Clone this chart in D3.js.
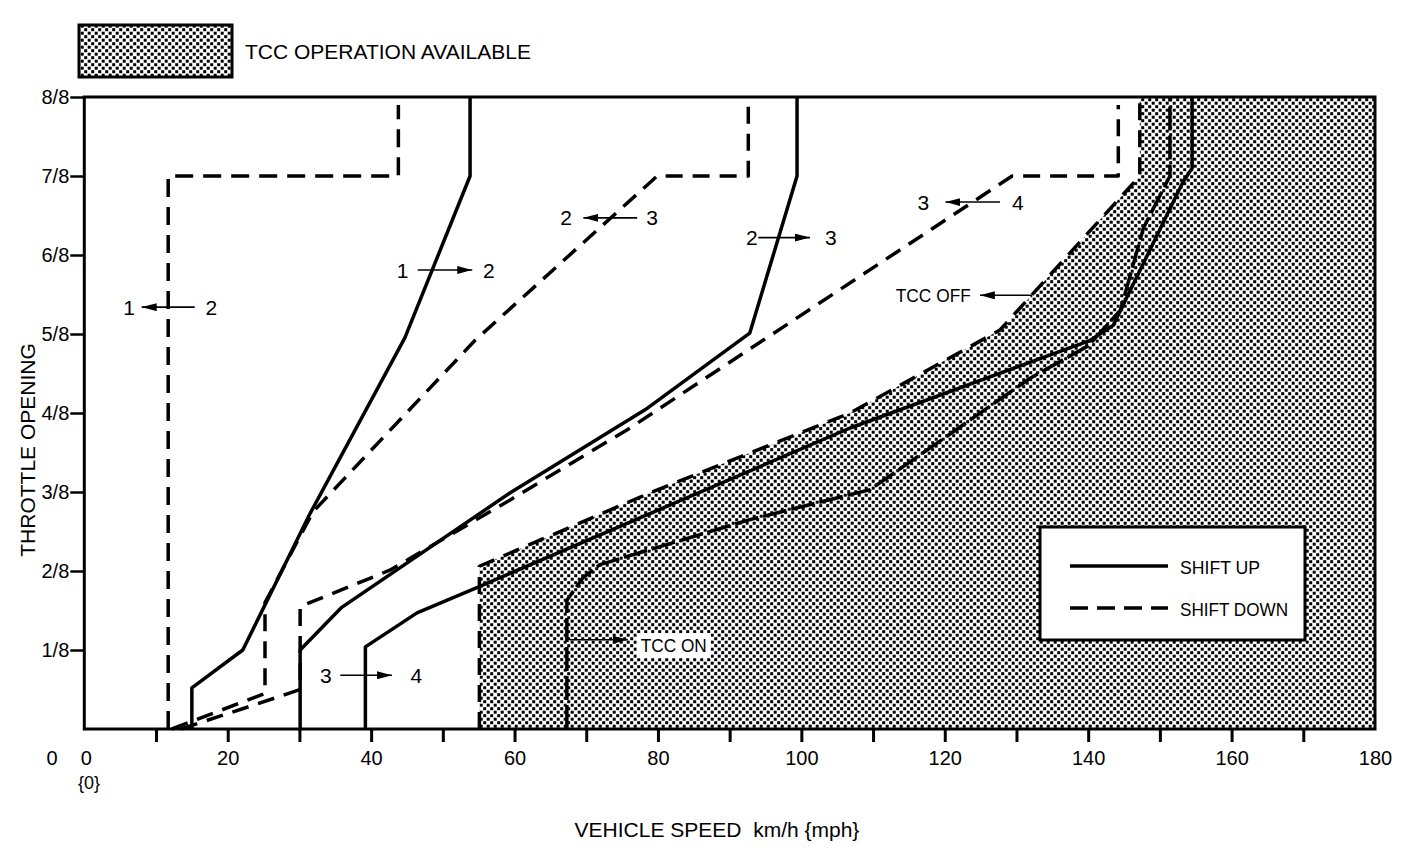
<!DOCTYPE html>
<html>
<head>
<meta charset="utf-8">
<script src="https://cdn.jsdelivr.net/npm/d3@7"></script>
<style>
  body { margin: 0; background: #fff; }
  svg { display: block; font-family: "Liberation Sans", Arial, sans-serif; }
</style>
</head>
<body>
<div id="chart"></div>
<script>
// shift points: [vehicle speed km/h, throttle opening in eighths]
const up12 = [[15.0, 0], [15.0, 0.52], [22.1, 1.0], [31.5, 2.73], [44.7, 4.95], [53.8, 7.0], [53.8, 8]];
const down12 = [[11.7, 0], [11.7, 7.0], [43.8, 7.0], [43.8, 7.9]];
const up23 = [[30.1, 0], [30.1, 1.0], [35.9, 1.54], [59.4, 2.99], [78.2, 4.04], [92.8, 5.01], [99.4, 7.0], [99.4, 8]];
const down23 = [[12.2, 0], [25.2, 0.45], [25.2, 1.6], [31.9, 2.75], [54.5, 4.92], [79.9, 7.0], [92.6, 7.0], [92.6, 7.9]];
const up34 = [[39.2, 0], [39.2, 1.04], [46.4, 1.47], [55.0, 1.8], [106.8, 3.81], [140.3, 4.92], [143.5, 5.11], [153.2, 6.92], [154.5, 7.1], [154.5, 8]];
const down34 = [[13.5, 0], [28.5, 0.45], [30.1, 0.5], [30.1, 1.55], [42.6, 2.01], [59.4, 2.9], [76.1, 3.81], [129.4, 7.0], [144.2, 7.0], [144.2, 7.9]];
const tccOff = [[55.1, 0], [55.1, 2.06], [78.9, 2.99], [106.8, 4.0], [127.7, 5.05], [147.2, 7.0], [147.2, 8]];
const tccOn = [[67.3, 0], [67.3, 1.63], [69.6, 1.92], [71.9, 2.08], [92.8, 2.65], [109.6, 3.03], [131.9, 4.44], [140.0, 4.85], [144.5, 5.3], [147.7, 6.34], [151.4, 7.0], [151.4, 8]];

const speedTicks = d3.range(10, 180, 10);
const speedLabels = [20, 40, 60, 80, 100, 120, 140, 160, 180];
const throttleTicks = [1, 2, 3, 4, 5, 6, 7, 8];

// gear arrows "a -> b", placed in data units
const shiftNotes = [
    { left: '1', right: '2', t: 5.34, vl: 6.25, vr: 17.7, a0: 15.4, a1: 8.0 },
    { left: '1', right: '2', t: 5.81, vl: 44.4, vr: 56.4, a0: 46.5, a1: 54.1 },
    { left: '2', right: '3', t: 6.47, vl: 67.2, vr: 79.2, a0: 77.1, a1: 69.6 },
    { left: '2', right: '3', t: 6.22, vl: 93.1, vr: 104.1, a0: 94.0, a1: 101.2 },
    { left: '3', right: '4', t: 6.67, vl: 117.0, vr: 130.2, a0: 127.7, a1: 120.1 },
    { left: '3', right: '4', t: 0.68, vl: 33.7, vr: 46.3, a0: 35.7, a1: 42.9 }
];

const width = 1408, height = 850;

const svg = d3.select('#chart')
    .append('svg')
    .attr('width', width)
    .attr('height', height);

const x = d3.scaleLinear().domain([0, 180]).range([84.3, 1375]);
const y = d3.scaleLinear().domain([0, 8]).range([729, 97]);

const defs = svg.append('defs');

// dotted screen used for "TCC operation available"
const pat = defs.append('pattern')
    .attr('id', 'dots')
    .attr('patternUnits', 'userSpaceOnUse')
    .attr('width', 7)
    .attr('height', 7);
pat.append('rect').attr('x', 0.2).attr('y', 0.2).attr('width', 3).attr('height', 3).attr('fill', '#000');
pat.append('rect').attr('x', 3.7).attr('y', 3.7).attr('width', 3).attr('height', 3).attr('fill', '#000');

defs.append('marker')
    .attr('id', 'arrow')
    .attr('viewBox', '0 0 10 10')
    .attr('preserveAspectRatio', 'none')
    .attr('refX', 10)
    .attr('refY', 5)
    .attr('markerWidth', 15)
    .attr('markerHeight', 8)
    .attr('markerUnits', 'userSpaceOnUse')
    .attr('orient', 'auto')
    .append('path')
    .attr('d', 'M0,0L10,5L0,10Z')
    .attr('fill', '#000');

const line = d3.line()
    .x(d => x(d[0]))
    .y(d => y(d[1]));

// hatched region right of the TCC OFF line
svg.append('path')
    .attr('d', line(tccOff.concat([[180, 8], [180, 0]])) + 'Z')
    .attr('fill', 'url(#dots)');

// legend inside plot
const legend = svg.append('g');
legend.append('rect')
    .attr('x', 1040).attr('y', 527)
    .attr('width', 265).attr('height', 113)
    .attr('fill', '#fff')
    .attr('stroke', '#000')
    .attr('stroke-width', 3);
legend.append('line')
    .attr('x1', 1070).attr('x2', 1168).attr('y1', 566).attr('y2', 566)
    .attr('stroke', '#000').attr('stroke-width', 3.5);
legend.append('line')
    .attr('x1', 1070).attr('x2', 1168).attr('y1', 608).attr('y2', 608)
    .attr('stroke', '#000').attr('stroke-width', 3.5)
    .attr('stroke-dasharray', '18,9');
legend.append('text')
    .attr('x', 1180).attr('y', 574)
    .attr('font-size', 18)
    .attr('textLength', 80).attr('lengthAdjust', 'spacingAndGlyphs')
    .text('SHIFT UP');
legend.append('text')
    .attr('x', 1180).attr('y', 616)
    .attr('font-size', 18)
    .attr('textLength', 108).attr('lengthAdjust', 'spacingAndGlyphs')
    .text('SHIFT DOWN');

// shift lines
const series = [
    { data: up12, dash: null },
    { data: up23, dash: null },
    { data: up34, dash: null },
    { data: down12, dash: '18,10' },
    { data: down23, dash: '17,10' },
    { data: down34, dash: '17,10' },
    { data: tccOff, dash: '17,10' },
    { data: tccOn, dash: '24,5' }
];

svg.selectAll('.shift')
    .data(series)
    .enter()
    .append('path')
    .attr('class', 'shift')
    .attr('d', d => line(d.data))
    .attr('fill', 'none')
    .attr('stroke', '#000')
    .attr('stroke-width', 3.5)
    .attr('stroke-linejoin', 'round')
    .attr('stroke-dasharray', d => d.dash);

// frame
svg.append('rect')
    .attr('x', x(0)).attr('y', y(8))
    .attr('width', x(180) - x(0)).attr('height', y(0) - y(8))
    .attr('fill', 'none')
    .attr('stroke', '#000')
    .attr('stroke-width', 3);

// x axis ticks and labels
svg.append('g')
    .attr('transform', `translate(0,${y(0)})`)
    .call(d3.axisBottom(x).tickValues(speedTicks).tickSize(13).tickFormat(''))
    .call(g => g.select('.domain').remove())
    .call(g => g.selectAll('line').attr('stroke-width', 3));

svg.append('g')
    .attr('transform', `translate(0,${y(0)})`)
    .call(d3.axisBottom(x).tickValues(speedLabels).tickSize(0).tickPadding(22))
    .call(g => g.select('.domain').remove())
    .call(g => g.selectAll('text')
        .attr('font-size', 20)
        .attr('font-family', '"Liberation Sans", Arial, sans-serif')
        .attr('fill', '#000'));

// zero labels
svg.append('text').attr('x', 52).attr('y', 765).attr('font-size', 20).attr('text-anchor', 'middle').text('0');
svg.append('text').attr('x', x(0) + 2).attr('y', 765).attr('font-size', 20).attr('text-anchor', 'middle').text('0');
svg.append('text').attr('x', 78).attr('y', 789).attr('font-size', 18).text('{0}');

// y axis
svg.append('g')
    .attr('transform', `translate(${x(0)},0)`)
    .call(d3.axisLeft(y).tickValues(throttleTicks).tickSize(14).tickPadding(1).tickFormat(d => d + '/8'))
    .call(g => g.select('.domain').remove())
    .call(g => g.selectAll('line').attr('stroke-width', 2.5))
    .call(g => g.selectAll('text')
        .attr('font-size', 20)
        .attr('font-family', '"Liberation Sans", Arial, sans-serif')
        .attr('fill', '#000'));

// axis titles
svg.append('text')
    .attr('x', 717).attr('y', 837)
    .attr('text-anchor', 'middle')
    .attr('font-size', 21)
    .style('white-space', 'pre')
    .text('VEHICLE SPEED  km/h {mph}');

svg.append('text')
    .attr('transform', 'translate(35,450) rotate(-90)')
    .attr('text-anchor', 'middle')
    .attr('font-size', 21)
    .text('THROTTLE OPENING');

// top legend
svg.append('rect')
    .attr('x', 79).attr('y', 25)
    .attr('width', 153).attr('height', 52)
    .attr('fill', 'url(#dots)')
    .attr('stroke', '#000')
    .attr('stroke-width', 3);
svg.append('text')
    .attr('x', 245).attr('y', 59)
    .attr('font-size', 21)
    .text('TCC OPERATION AVAILABLE');

// gear change notes
const notes = svg.append('g').attr('font-size', 21);
shiftNotes.forEach(n => {
    notes.append('text')
        .attr('x', x(n.vl)).attr('y', y(n.t)).attr('dy', '0.36em')
        .attr('text-anchor', 'middle')
        .text(n.left);
    notes.append('text')
        .attr('x', x(n.vr)).attr('y', y(n.t)).attr('dy', '0.36em')
        .attr('text-anchor', 'middle')
        .text(n.right);
    notes.append('line')
        .attr('x1', x(n.a0)).attr('x2', x(n.a1))
        .attr('y1', y(n.t)).attr('y2', y(n.t))
        .attr('stroke', '#000').attr('stroke-width', 1.6)
        .attr('marker-end', 'url(#arrow)');
});

// TCC OFF note
notes.append('text')
    .attr('x', x(118.4)).attr('y', y(5.49)).attr('dy', '0.36em')
    .attr('text-anchor', 'middle')
    .attr('font-size', 19)
    .attr('textLength', 75).attr('lengthAdjust', 'spacingAndGlyphs')
    .text('TCC OFF');
notes.append('line')
    .attr('x1', x(132.2)).attr('x2', x(124.9))
    .attr('y1', y(5.49)).attr('y2', y(5.49))
    .attr('stroke', '#000').attr('stroke-width', 1.6)
    .attr('marker-end', 'url(#arrow)');

// TCC ON note, on a white patch over the dots
const onLabel = notes.append('text')
    .attr('x', x(77.6)).attr('y', y(1.06)).attr('dy', '0.36em')
    .attr('font-size', 19)
    .attr('textLength', 66).attr('lengthAdjust', 'spacingAndGlyphs')
    .text('TCC ON');
const bb = onLabel.node().getBBox();
notes.insert('rect', 'text')
    .attr('x', bb.x - 4).attr('y', bb.y - 2)
    .attr('width', bb.width + 8).attr('height', bb.height + 4)
    .attr('fill', '#fff');
notes.append('line')
    .attr('x1', x(67.7)).attr('x2', x(75.8))
    .attr('y1', y(1.13)).attr('y2', y(1.13))
    .attr('stroke', '#000').attr('stroke-width', 1.6)
    .attr('marker-end', 'url(#arrow)');
</script>
</body>
</html>
